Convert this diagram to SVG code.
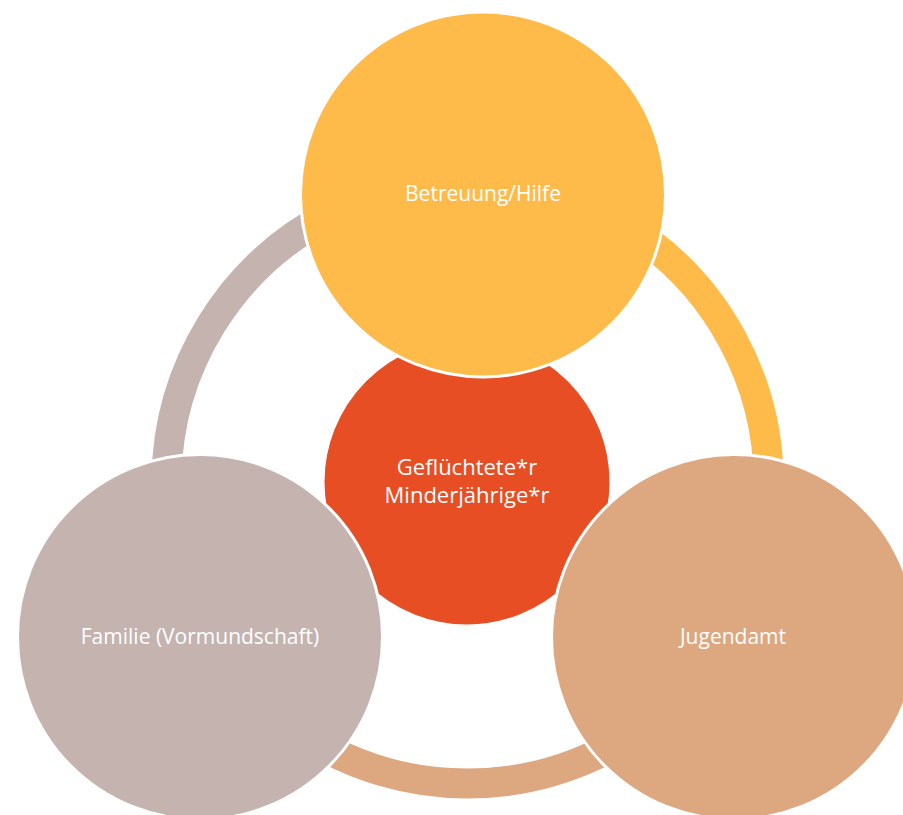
<svg xmlns="http://www.w3.org/2000/svg" width="903" height="815" viewBox="0 0 903 815">
<style>
.arc{fill:none;stroke-width:30;stroke-linecap:butt}
.node{stroke:#FFFFFF;stroke-width:3}
.lbl{font-family:"Open Sans","Noto Sans","DejaVu Sans",sans-serif;fill:#FFFFFF;text-anchor:middle}
.o{font-size:21px}
.c{font-size:22px}
</style>
<rect width="903" height="815" fill="#FFFFFF"/>
<g id="connectors">
<path class="arc" stroke="#FEBB49" d="M483.2,181.9 A301,301 0 0 1 727.9,633.5"/>
<path class="arc" stroke="#DDA780" d="M727.9,633.5 A301,301 0 0 1 206.8,633"/>
<path class="arc" stroke="#C4B3AF" d="M206.8,633 A301,301 0 0 1 483.2,181.9"/>
</g>
<g id="center">
<circle class="node" cx="467" cy="482" r="144" fill="#E84E24"/>
<text class="lbl c" x="467" y="475">Geflüchtete*r</text>
<text class="lbl c" x="467" y="503">Minderjährige*r</text>
</g>
<g id="betreuung">
<circle class="node" cx="483" cy="194.5" r="182.5" fill="#FEBB49"/>
<text class="lbl o" x="483" y="201">Betreuung/Hilfe</text>
</g>
<g id="jugendamt">
<circle class="node" cx="734" cy="637" r="182.5" fill="#DDA780"/>
<text class="lbl o" x="733" y="644">Jugendamt</text>
</g>
<g id="familie">
<circle class="node" cx="200" cy="637" r="182.5" fill="#C4B3AF"/>
<text class="lbl o" x="200" y="644">Familie (Vormundschaft)</text>
</g>
</svg>
